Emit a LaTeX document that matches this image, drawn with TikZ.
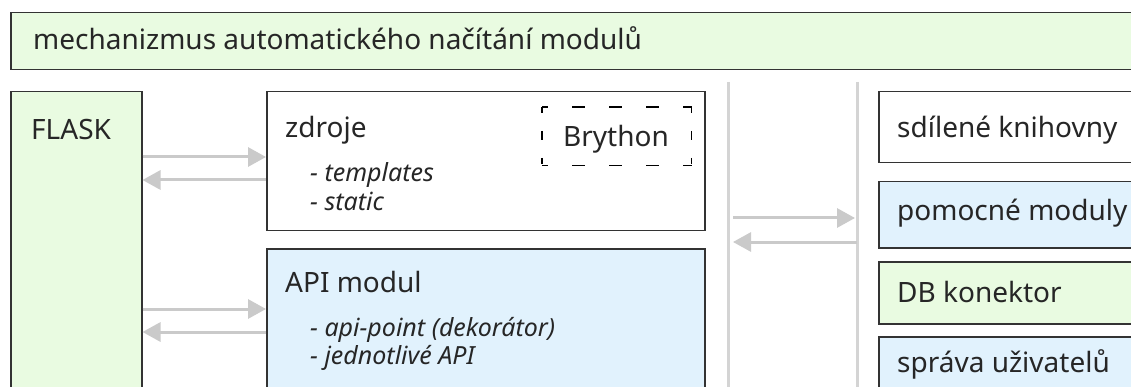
\documentclass[tikz,border=0pt]{standalone}
\usepackage{fontspec}
\setmainfont{Noto Sans}
\usetikzlibrary{arrows.meta}
\definecolor{boxline}{HTML}{333333}
\definecolor{greenfill}{HTML}{E9FBE1}
\definecolor{bluefill}{HTML}{E1F2FD}
\definecolor{flowgray}{HTML}{CACACA}
\definecolor{lanegray}{HTML}{D4D4D4}

\begin{document}
\begin{tikzpicture}[x=1pt,y=-1pt,
		box/.style={draw=boxline,line width=1.5pt,inner sep=0pt,anchor=north west},
		lbl/.style={inner sep=0pt,anchor=base west,font=\fontsize{28}{32}\selectfont,text=black!85},
		item/.style={lbl,font=\fontsize{25}{29}\selectfont\itshape},
		flow/.style={draw=flowgray,line width=3pt,-{Triangle[length=18pt,width=19pt]}},
		lane/.style={draw=lanegray,line width=3pt},
		dashh/.style={line width=1.5pt,dash pattern=on 13pt off 24pt,dash phase=7pt},
		dashv/.style={line width=1.5pt,dash pattern=on 6pt off 18pt on 9pt off 18pt on 6pt off 10pt}]
	\useasboundingbox[fill=white] (0,0) rectangle (1131,387);
	\clip (0,0) rectangle (1131,387);

	% loader bar
	\node[box,fill=greenfill,minimum width=1140pt,minimum height=57pt] (loader) at (10,12) {};
	\node[lbl] (loaderlbl) at (33,50) {mechanizmus automatického načítání modulů};

	% left side
	\node[box,fill=greenfill,minimum width=131pt,minimum height=320pt] (flask) at (10,91) {};
	\node[lbl] (flasklbl) at (31,140) {FLASK};

	\node[box,fill=white,minimum width=438pt,minimum height=139pt] (zdroje) at (266,91) {};
	\node[lbl] (zdrojelbl) at (285,138) {zdroje};
	\node[item] (tpl) at (310,182) {- templates};
	\node[item] (stat) at (310,211) {- static};
	\node[box,draw=none,minimum width=148pt,minimum height=57pt] (brython) at (542,107) {};
	\draw[dashh] (brython.north west) -- (brython.north east);
	\draw[dashh] (brython.south west) -- (brython.south east);
	\draw[dashv] (brython.north west) -- (brython.south west);
	\draw[dashv] (brython.north east) -- (brython.south east);
	\node[lbl,anchor=base] (brythonlbl) at (616,147) {Brython};

	\node[box,fill=bluefill,minimum width=438pt,minimum height=160pt] (api) at (266,248) {};
	\node[lbl] (apilbl) at (285,292) {API modul};
	\node[item] (apipoint) at (310,336) {- api-point (dekorátor)};
	\node[item] (apieach) at (310,364) {- jednotlivé API};

	\draw[flow] (flask.east |- 0,157) -- (zdroje.west |- 0,157);
	\draw[flow] (zdroje.west |- 0,180) -- (flask.east |- 0,180);
	\draw[flow] (flask.east |- 0,309) -- (api.west |- 0,309);
	\draw[flow] (api.west |- 0,332) -- (flask.east |- 0,332);

	% lanes
	\coordinate (laneA) at (728,82);
	\coordinate (laneB) at (857,82);
	\draw[lane] (laneA) -- (laneA |- 0,400);
	\draw[lane] (laneB) -- (laneB |- 0,400);
	\draw[flow] ([xshift=5pt]laneA |- 0,218) -- ([xshift=-2pt]laneB |- 0,218);
	\draw[flow] (laneB |- 0,242) -- ([xshift=5pt]laneA |- 0,242);

	% right side
	\node[box,fill=white,minimum width=300pt,minimum height=71pt] (shared) at (878,91) {};
	\node[lbl] (sharedlbl) at (897,138) {sdílené knihovny};
	\node[box,fill=bluefill,minimum width=300pt,minimum height=66pt] (helpers) at (878,181) {};
	\node[lbl] (helperslbl) at (897,221) {pomocné moduly};
	\node[box,fill=greenfill,minimum width=300pt,minimum height=62pt] (dbconn) at (878,261) {};
	\node[lbl] (dbconnlbl) at (897,302) {DB konektor};
	\node[box,fill=bluefill,minimum width=300pt,minimum height=80pt] (users) at (878,336) {};
	\node[lbl] (userslbl) at (897,372) {správa uživatelů};
\end{tikzpicture}
\end{document}
